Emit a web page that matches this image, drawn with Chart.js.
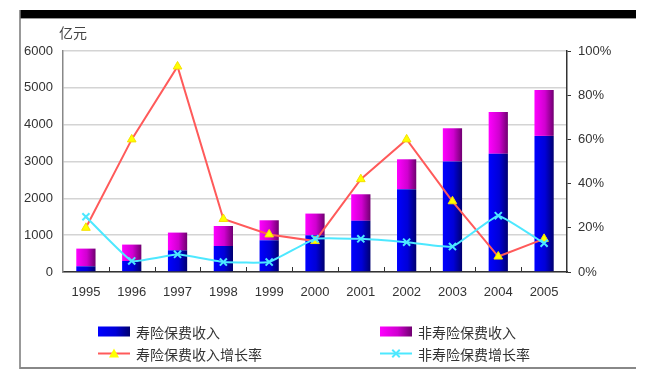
<!DOCTYPE html>
<html>
<head>
<meta charset="utf-8">
<script src="https://cdn.jsdelivr.net/npm/chart.js@4/dist/chart.umd.min.js"></script>
<style>
  html, body { margin: 0; padding: 0; background: #fff; }
  #wrap { position: relative; width: 659px; height: 375px; }
</style>
</head>
<body>
<div id="wrap"><canvas id="chart" width="659" height="375"></canvas></div>
<script>
// 数据 (亿元 / %)
const years = ['1995', '1996', '1997', '1998', '1999', '2000', '2001', '2002', '2003', '2004', '2005'];
const lifePremium = [155, 299, 589, 706, 861, 997, 1390, 2250, 3000, 3210, 3695];
const nonLifePremium = [480, 445, 481, 543, 543, 589, 720, 810, 902, 1134, 1247];
const lifeGrowth = [20, 60, 93, 24, 17, 14, 42, 60, 32, 7, 15];
const nonLifeGrowth = [25, 5, 8, 4.5, 4.5, 15, 15, 13.5, 11.5, 25.5, 13];

const BAR_PCT = 0.42;
const tickFont = { family: '"Liberation Sans", Arial, sans-serif', size: 13 };
const cjkFont = '14px "Noto Sans CJK SC", sans-serif';

// 柱子的横向渐变 (左亮右暗)
function barGradient(ctx, stops) {
    const chart = ctx.chart;
    const xs = chart.scales.x;
    if (ctx.type !== 'data' || !xs || !xs.width) return stops[0];
    const cx = xs.getPixelForValue(ctx.dataIndex);
    const w = (xs.width / years.length) * BAR_PCT;
    const g = chart.ctx.createLinearGradient(cx - w / 2, 0, cx + w / 2, 0);
    g.addColorStop(0, stops[0]);
    g.addColorStop(0.55, stops[1]);
    g.addColorStop(1, stops[2]);
    return g;
}
const blueStops = ['#0000ff', '#0000d8', '#000070'];
const magentaStops = ['#ff00ff', '#d000d0', '#700070'];

// 外框 + 单位 + 分类刻度
const framePlugin = {
    id: 'frame',
    beforeDraw(chart) {
        const c = chart.ctx;
        c.save();
        c.fillStyle = '#fff';
        c.fillRect(0, 0, chart.width, chart.height);
        c.restore();
    },
    afterDraw(chart) {
        const c = chart.ctx;
        const area = chart.chartArea;
        const xs = chart.scales.x;
        c.save();
        c.fillStyle = '#000';
        c.fillRect(20, 10, 616, 8);
        c.strokeStyle = '#999';
        c.lineWidth = 1;
        c.beginPath(); c.moveTo(20, 18.5); c.lineTo(636, 18.5); c.stroke();
        c.strokeStyle = '#777';
        c.lineWidth = 1.5;
        c.beginPath(); c.moveTo(20, 10); c.lineTo(20, 369); c.stroke();
        c.strokeStyle = '#888';
        c.lineWidth = 2;
        c.beginPath(); c.moveTo(20, 368); c.lineTo(636, 368); c.stroke();

        // 分类之间的小刻度 (朝上)
        c.strokeStyle = '#333';
        c.lineWidth = 1;
        const step = xs.width / years.length;
        for (let i = 1; i < years.length; i++) {
            const x = Math.round(area.left + step * i) + 0.5;
            c.beginPath(); c.moveTo(x, area.bottom); c.lineTo(x, area.bottom - 5); c.stroke();
        }

        c.fillStyle = '#444';
        c.font = cjkFont;
        c.textBaseline = 'middle';
        c.textAlign = 'left';
        c.fillText('亿元', 59, 33);
        c.restore();
    }
};

// 图例: 两列两行
const legendPlugin = {
    id: 'customLegend',
    afterDraw(chart) {
        const c = chart.ctx;
        const ds = chart.data.datasets;
        const slots = [
            { i: 0, x: 98, y: 331.5 },
            { i: 1, x: 380, y: 331.5 },
            { i: 2, x: 98, y: 353.5 },
            { i: 3, x: 380, y: 353.5 }
        ];
        c.save();
        slots.forEach(s => {
            const d = ds[s.i];
            const mx = s.x + 16;
            if (d.type === 'bar') {
                const stops = s.i === 0 ? blueStops : magentaStops;
                const g = c.createLinearGradient(s.x, 0, s.x + 32, 0);
                g.addColorStop(0, stops[0]);
                g.addColorStop(0.55, stops[1]);
                g.addColorStop(1, stops[2]);
                c.fillStyle = g;
                c.fillRect(s.x, s.y - 5, 32, 10);
            } else {
                c.strokeStyle = d.borderColor;
                c.lineWidth = 2;
                c.beginPath(); c.moveTo(s.x, s.y); c.lineTo(s.x + 32, s.y); c.stroke();
                c.fillStyle = d.pointBackgroundColor;
                c.strokeStyle = d.pointBorderColor;
                c.lineWidth = d.pointBorderWidth;
                c.beginPath();
                if (d.pointStyle === 'triangle') {
                    const r = d.pointRadius;
                    c.moveTo(mx, s.y - r);
                    c.lineTo(mx + r, s.y + r * 0.8);
                    c.lineTo(mx - r, s.y + r * 0.8);
                    c.closePath();
                    c.fill();
                } else {
                    const r = d.pointRadius * 0.75;
                    c.moveTo(mx - r, s.y - r); c.lineTo(mx + r, s.y + r);
                    c.moveTo(mx + r, s.y - r); c.lineTo(mx - r, s.y + r);
                    c.stroke();
                }
            }
            c.fillStyle = '#333';
            c.font = cjkFont;
            c.textAlign = 'left';
            c.textBaseline = 'middle';
            c.fillText(d.label, s.x + 38, s.y + 1);
        });
        c.restore();
    }
};

new Chart(document.getElementById('chart'), {
    data: {
        labels: years,
        datasets: [
            {
                type: 'bar',
                label: '寿险保费收入',
                data: lifePremium,
                backgroundColor: ctx => barGradient(ctx, blueStops),
                stack: 'premium',
                yAxisID: 'y',
                order: 2,
                barPercentage: BAR_PCT,
                categoryPercentage: 1
            },
            {
                type: 'bar',
                label: '非寿险保费收入',
                data: nonLifePremium,
                backgroundColor: ctx => barGradient(ctx, magentaStops),
                stack: 'premium',
                yAxisID: 'y',
                order: 2,
                barPercentage: BAR_PCT,
                categoryPercentage: 1
            },
            {
                type: 'line',
                label: '寿险保费收入增长率',
                data: lifeGrowth,
                yAxisID: 'y2',
                borderColor: '#ff5a5a',
                borderWidth: 2,
                tension: 0,
                pointStyle: 'triangle',
                pointRadius: 5,
                pointBorderWidth: 1,
                pointBackgroundColor: '#ffff00',
                pointBorderColor: '#f5e000',
                order: 1
            },
            {
                type: 'line',
                label: '非寿险保费增长率',
                data: nonLifeGrowth,
                yAxisID: 'y2',
                borderColor: '#4de8ff',
                borderWidth: 2,
                tension: 0.1,
                pointStyle: 'crossRot',
                pointRadius: 5,
                pointBorderWidth: 2,
                pointBackgroundColor: '#4de8ff',
                pointBorderColor: '#4de8ff',
                order: 0
            }
        ]
    },
    options: {
        responsive: false,
        animation: false,
        layout: { padding: { top: 51, left: 0, right: 0, bottom: 0 } },
        plugins: {
            legend: { display: false },
            tooltip: { enabled: false }
        },
        scales: {
            x: {
                stacked: true,
                afterFit: s => { s.height = 103; },
                grid: { display: true, drawOnChartArea: false, drawTicks: false },
                border: { display: true, color: '#333', width: 1.5 },
                ticks: { color: '#333', font: tickFont, padding: 13, maxRotation: 0 }
            },
            y: {
                stacked: true,
                position: 'left',
                min: 0,
                max: 6000,
                afterFit: s => { s.width = 63; },
                ticks: { stepSize: 1000, color: '#333', font: tickFont, padding: 10, callback: v => String(v) },
                grid: { color: '#d4d4d4', lineWidth: 1.5, drawTicks: false },
                border: { display: true, color: '#888', width: 1.5 }
            },
            y2: {
                position: 'right',
                min: 0,
                max: 100,
                afterFit: s => { s.width = 92; },
                ticks: { stepSize: 20, color: '#333', font: tickFont, padding: 7, callback: v => v + '%' },
                grid: { drawOnChartArea: false, drawTicks: true, tickLength: 4, color: '#333' },
                border: { display: true, color: '#333', width: 1.5 }
            }
        }
    },
    plugins: [framePlugin, legendPlugin]
});
</script>
</body>
</html>
